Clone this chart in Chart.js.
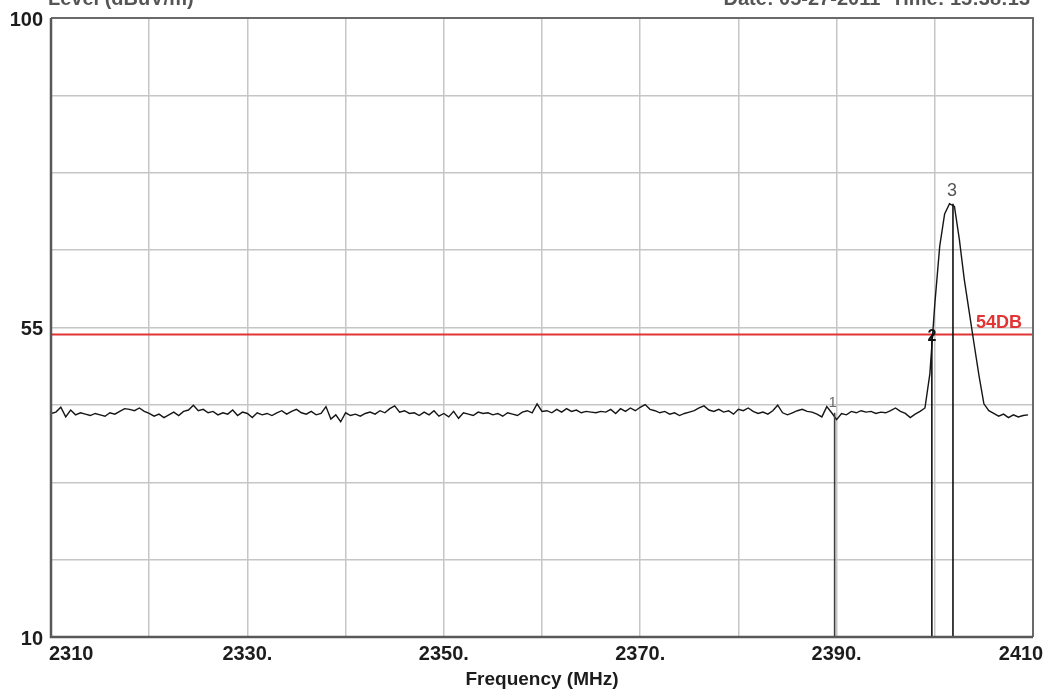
<!DOCTYPE html>
<html>
<head>
<meta charset="utf-8">
<title>Frequency sweep</title>
<script src="https://cdn.jsdelivr.net/npm/chart.js@4.4.1/dist/chart.umd.min.js"></script>
<style>
  html, body { margin: 0; padding: 0; background: #fff; overflow: hidden; }
  canvas { display: block; }
</style>
</head>
<body>
<canvas id="sweepChart" width="1052" height="695"></canvas>
<script>
// -----------------------------
// Data
// -----------------------------
const FREQ_START = 2310;   // MHz, first sweep bin
const FREQ_STEP = 0.5;     // MHz between bins

// noise floor 2310.0 - 2335.0
const levelsA = [
  42.5, 42.7, 43.4, 42.0, 43.0, 42.3, 42.6, 42.4, 42.2, 42.5, 42.3, 42.1, 42.6,
  42.4, 42.8, 43.2, 43.1, 42.9, 43.3, 42.8, 42.5, 42.1, 42.4, 41.9, 42.3, 42.7,
  42.2, 42.8, 43.0, 43.7, 42.9, 43.1, 42.6, 42.8, 42.3, 42.6, 42.4, 43.0, 42.2,
  42.7, 42.5, 41.9, 42.6, 42.3, 42.5, 42.2, 42.6, 42.9, 42.4, 42.8, 43.1
];
// noise floor 2335.5 - 2360.0
const levelsB = [
  42.6, 42.4, 42.8, 42.3, 42.5, 43.5, 41.7, 42.3, 41.3, 42.6, 42.2, 42.4, 42.1,
  42.5, 42.7, 42.4, 42.9, 42.6, 43.2, 43.6, 42.7, 42.9, 42.5, 42.6, 42.2, 42.7,
  42.3, 42.9, 42.1, 42.5, 42.0, 42.8, 41.8, 42.6, 42.4, 42.2, 42.7, 42.5, 42.6,
  42.3, 42.5, 42.1, 42.6, 42.4, 42.2, 42.7, 42.9, 42.6, 43.9, 42.8
];
// noise floor 2360.5 - 2385.0
const levelsC = [
  42.9, 42.6, 43.1, 42.7, 43.2, 42.8, 43.0, 42.6, 42.8, 42.7, 42.6, 42.8, 42.7,
  43.1, 42.5, 43.2, 42.8, 43.3, 42.9, 43.4, 43.8, 43.1, 42.9, 42.6, 42.8, 42.4,
  42.6, 42.2, 42.5, 42.7, 42.9, 43.3, 43.6, 43.0, 42.8, 43.1, 42.7, 42.9, 42.4,
  43.1, 42.9, 43.3, 42.8, 42.5, 42.7, 42.4, 42.9, 43.7, 42.6, 42.3
];
// noise floor 2385.5 - 2398.5
const levelsD = [
  42.6, 42.9, 43.1, 42.8, 42.7, 42.4, 42.0, 43.5, 42.6, 41.6, 42.5, 42.3, 42.8,
  42.6, 42.9, 42.7, 42.8, 42.5, 42.7, 42.6, 42.9, 43.3, 42.8, 42.5, 41.9, 42.4,
  42.8
];
// carrier 2399.0 - 2405.5
const levelsPeak = [
  43.3, 48.3, 58.4, 66.8, 71.5, 73.0, 72.6, 67.8, 62.0, 57.3, 52.6, 48.0, 43.9,
  42.9
];
// noise floor 2406.0 - 2409.5
const levelsTail = [42.5, 42.1, 42.4, 41.9, 42.3, 42.0, 42.2, 42.3];

const limitLevel = 54;
const limitLabel = "54DB";

const markerNames = ["1", "2", "3"];
const markerFreqs = [2389.8, 2399.7, 2401.85];
const markerLevels = [42.6, 54.0, 73.0];

const xTickValues = [2310, 2330, 2350, 2370, 2390, 2410];
const xTickLabels = ["2310", "2330.", "2350.", "2370.", "2390.", "2410"];
const yTickValues = [100, 55, 10];
const yTickLabels = ["100", "55", "10"];

const xTitle = "Frequency (MHz)";
const headLeft = "Level (dBuV/m)";
const headRight = "Date: 05-27-2011  Time: 15:38:13";

// -----------------------------
// Helpers
// -----------------------------
function tracePoints() {
  const all = [].concat(levelsA, levelsB, levelsC, levelsD, levelsPeak, levelsTail);
  return all.map((v, i) => ({ x: FREQ_START + i * FREQ_STEP, y: v }));
}

function markerDataset(i) {
  return {
    data: [{ x: markerFreqs[i], y: 10 }, { x: markerFreqs[i], y: markerLevels[i] }],
    borderColor: i === 0 ? "#3c3c3c" : "#111",
    borderWidth: 1.6,
    pointRadius: 0,
    order: 1
  };
}

const FONT = "'Liberation Sans', Arial, sans-serif";

// -----------------------------
// Overlay plugin: frame, labels, markers
// -----------------------------
const overlay = {
  id: "overlay",
  afterDraw(chart) {
    const ctx = chart.ctx;
    const a = chart.chartArea;
    const xs = chart.scales.x;
    const ys = chart.scales.y;

    ctx.save();

    // frame
    ctx.strokeStyle = "#6a6a6a";
    ctx.lineWidth = 2;
    ctx.beginPath();
    ctx.moveTo(a.left, a.top);
    ctx.lineTo(a.right, a.top);
    ctx.lineTo(a.right, a.bottom);
    ctx.stroke();
    ctx.strokeStyle = "#585858";
    ctx.lineWidth = 2.5;
    ctx.beginPath();
    ctx.moveTo(a.left, a.top);
    ctx.lineTo(a.left, a.bottom);
    ctx.lineTo(a.right, a.bottom);
    ctx.stroke();

    // header texts, cut off by the top edge
    ctx.fillStyle = "#555";
    ctx.font = "bold 20px " + FONT;
    ctx.textBaseline = "alphabetic";
    ctx.textAlign = "left";
    ctx.fillText(headLeft, 48, 5);
    ctx.textAlign = "right";
    ctx.fillText(headRight, 1030, 5);

    // y tick labels
    ctx.fillStyle = "#1c1c1c";
    ctx.font = "bold 20px " + FONT;
    ctx.textAlign = "right";
    ctx.textBaseline = "middle";
    yTickValues.forEach((v, i) => {
      ctx.fillText(yTickLabels[i], a.left - 8, ys.getPixelForValue(v) + 2);
    });

    // x tick labels
    ctx.textBaseline = "middle";
    xTickValues.forEach((v, i) => {
      const px = xs.getPixelForValue(v);
      if (i === 0) {
        ctx.textAlign = "left";
        ctx.fillText(xTickLabels[i], px - 2, a.bottom + 17);
      } else if (i === xTickValues.length - 1) {
        ctx.textAlign = "center";
        ctx.fillText(xTickLabels[i], px - 12, a.bottom + 17);
      } else {
        ctx.textAlign = "center";
        ctx.fillText(xTickLabels[i], px, a.bottom + 17);
      }
    });

    // axis title
    ctx.font = "bold 19px " + FONT;
    ctx.textAlign = "center";
    ctx.fillText(xTitle, (a.left + a.right) / 2, a.bottom + 43);

    // limit label
    ctx.fillStyle = "#e23434";
    ctx.font = "bold 18px " + FONT;
    ctx.textAlign = "right";
    ctx.textBaseline = "alphabetic";
    ctx.fillText(limitLabel, xs.getPixelForValue(2410) - 11, ys.getPixelForValue(limitLevel) - 6);

    // marker labels
    ctx.textAlign = "center";
    ctx.textBaseline = "middle";
    markerNames.forEach((name, i) => {
      const px = xs.getPixelForValue(markerFreqs[i]);
      const py = ys.getPixelForValue(markerLevels[i]);
      if (i === 0) {
        ctx.fillStyle = "#6a6a6a";
        ctx.font = "15px " + FONT;
        ctx.fillText(name, px - 2, py - 10);
      } else if (i === 1) {
        ctx.fillStyle = "#111";
        ctx.font = "bold 16px " + FONT;
        ctx.fillText(name, px, py + 2);
      } else {
        ctx.fillStyle = "#555";
        ctx.font = "18px " + FONT;
        ctx.fillText(name, px - 1, py - 13);
      }
    });

    ctx.restore();
  }
};

// -----------------------------
// Chart
// -----------------------------
function initChart() {
  const canvas = document.getElementById("sweepChart");
  const ctx = canvas.getContext("2d");

  const datasets = [
    {
      data: [{ x: 2310, y: limitLevel }, { x: 2410, y: limitLevel }],
      borderColor: "#e23434",
      borderWidth: 2,
      pointRadius: 0,
      order: 3
    },
    {
      data: tracePoints(),
      borderColor: "#151515",
      borderWidth: 1.4,
      pointRadius: 0,
      tension: 0,
      order: 2
    }
  ];
  markerFreqs.forEach((f, i) => datasets.push(markerDataset(i)));

  return new Chart(ctx, {
    type: "line",
    data: { datasets },
    options: {
      responsive: false,
      animation: false,
      layout: { padding: { left: 51, top: 18, right: 19, bottom: 58 } },
      plugins: {
        legend: { display: false },
        tooltip: { enabled: false }
      },
      scales: {
        x: {
          type: "linear",
          min: 2310,
          max: 2410,
          afterFit: s => { s.height = 0; },
          ticks: { display: false, stepSize: 10 },
          grid: { color: "#c6c6c6", lineWidth: 1.5, drawTicks: false },
          border: { display: false }
        },
        y: {
          min: 10,
          max: 100,
          afterFit: s => { s.width = 0; },
          ticks: { display: false, stepSize: 11.25 },
          grid: { color: "#c6c6c6", lineWidth: 1.5, drawTicks: false },
          border: { display: false }
        }
      }
    },
    plugins: [overlay]
  });
}

initChart();
</script>
</body>
</html>
